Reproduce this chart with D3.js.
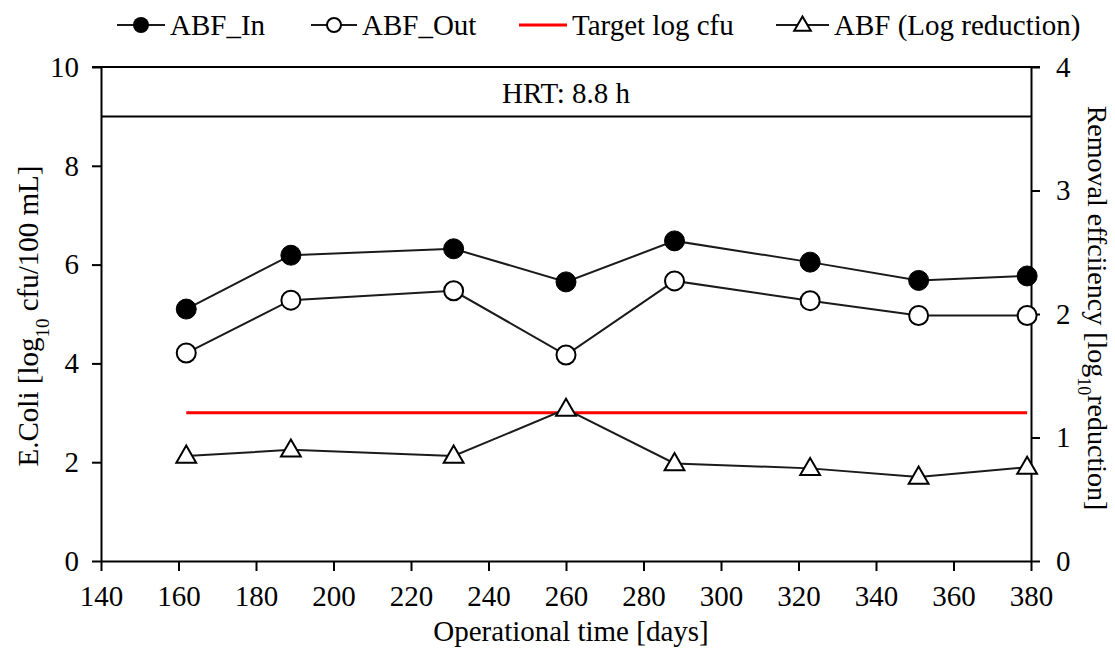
<!DOCTYPE html>
<html>
<head>
<meta charset="utf-8">
<script src="https://cdn.jsdelivr.net/npm/d3@7"></script>
<style>
  html, body { margin: 0; padding: 0; background: #fff; }
  svg text { font-family: "Liberation Serif", "Times New Roman", serif; fill: #000; }
</style>
</head>
<body>
<svg id="chart" width="1115" height="650"></svg>
<script>
// Operational days of each sampling
const days = [162, 189, 231, 260, 288, 323, 351, 379];
// E. coli, log10 cfu/100 mL
const abfIn  = [5.10, 6.19, 6.32, 5.65, 6.48, 6.05, 5.68, 5.77];
const abfOut = [4.21, 5.28, 5.47, 4.17, 5.67, 5.27, 4.97, 4.97];
// Removal, log10 reduction (right axis)
const logReduction = [0.85, 0.90, 0.85, 1.23, 0.79, 0.75, 0.68, 0.76];
// Target level, log10 cfu/100 mL
const targetLevel = 3;
const targetSpan = [162, 379];
const hrtLevel = 9;
const hrtLabel = "HRT: 8.8 h";

const xTicks = [140, 160, 180, 200, 220, 240, 260, 280, 300, 320, 340, 360, 380];
const yLeftTicks = [0, 2, 4, 6, 8, 10];
const yRightTicks = [0, 1, 2, 3, 4];

const svg = d3.select("#chart");
const m = { left: 101, right: 1031, top: 67, bottom: 561 };

const x = d3.scaleLinear().domain([140, 380]).range([m.left, m.right]);
const yL = d3.scaleLinear().domain([0, 10]).range([m.bottom, m.top]);
const yR = d3.scaleLinear().domain([0, 4]).range([m.bottom, m.top]);

const FS = 29;
const fmt = d3.format("d");

// Axes
const gx = svg.append("g").attr("transform", `translate(0,${m.bottom})`)
  .call(d3.axisBottom(x).tickValues(xTicks).tickFormat(fmt).tickSizeInner(10).tickSizeOuter(0).tickPadding(14));
const gyl = svg.append("g").attr("transform", `translate(${m.left},0)`)
  .call(d3.axisLeft(yL).tickValues(yLeftTicks).tickFormat(fmt).tickSizeInner(9).tickSizeOuter(0).tickPadding(13));
const gyr = svg.append("g").attr("transform", `translate(${m.right},0)`)
  .call(d3.axisRight(yR).tickValues(yRightTicks).tickFormat(fmt).tickSizeInner(9).tickSizeOuter(0).tickPadding(16));

[gx, gyl, gyr].forEach(g => {
  g.selectAll("path.domain").attr("stroke", "#000").attr("stroke-width", 2);
  g.selectAll(".tick line").attr("stroke", "#000").attr("stroke-width", 2);
  g.selectAll(".tick text").style("font-size", FS + "px").attr("fill", "#000");
});

// Top border and HRT band line
svg.append("line").attr("x1", m.left - 9).attr("x2", m.right + 9)
  .attr("y1", m.top).attr("y2", m.top).attr("stroke", "#000").attr("stroke-width", 2);
svg.append("line").attr("x1", m.left).attr("x2", m.right)
  .attr("y1", yL(hrtLevel)).attr("y2", yL(hrtLevel)).attr("stroke", "#000").attr("stroke-width", 2);
svg.append("text").attr("x", (m.left + m.right) / 2).attr("y", 103)
  .attr("text-anchor", "middle").style("font-size", FS + "px").text(hrtLabel);

// Axis titles
svg.append("text").attr("x", (m.left + m.right) / 2 + 5).attr("y", 641)
  .attr("text-anchor", "middle").style("font-size", FS + "px").text("Operational time [days]");

const lt = svg.append("text")
  .attr("transform", `translate(38,${(m.top + m.bottom) / 2 + 2}) rotate(-90)`)
  .attr("text-anchor", "middle").style("font-size", FS + "px");
lt.append("tspan").text("E.Coli [log");
lt.append("tspan").attr("baseline-shift", "sub").style("font-size", "19px").text("10");
lt.append("tspan").text(" cfu/100 mL]");

const rt = svg.append("text")
  .attr("transform", `translate(1088,${(m.top + m.bottom) / 2 - 6}) rotate(90)`)
  .attr("text-anchor", "middle").style("font-size", "28px");
rt.append("tspan").text("Removal effciiency [log");
rt.append("tspan").attr("baseline-shift", "sub").style("font-size", "18px").text("10");
rt.append("tspan").text("reduction]");

// Series lines
const lineL = d3.line().x(d => x(d[0])).y(d => yL(d[1]));
const lineR = d3.line().x(d => x(d[0])).y(d => yR(d[1]));
const inPts = days.map((d, i) => [d, abfIn[i]]);
const outPts = days.map((d, i) => [d, abfOut[i]]);
const redPts = days.map((d, i) => [d, logReduction[i]]);

svg.append("path").datum(inPts).attr("d", lineL)
  .attr("fill", "none").attr("stroke", "#1a1a1a").attr("stroke-width", 2);
svg.append("path").datum(outPts).attr("d", lineL)
  .attr("fill", "none").attr("stroke", "#1a1a1a").attr("stroke-width", 2);
svg.append("path").datum(targetSpan.map(d => [d, targetLevel])).attr("d", lineL)
  .attr("fill", "none").attr("stroke", "#ff0000").attr("stroke-width", 3);
svg.append("path").datum(redPts).attr("d", lineR)
  .attr("fill", "none").attr("stroke", "#1a1a1a").attr("stroke-width", 2);

// Markers
const tri = d3.symbol().type(d3.symbolTriangle).size(170);
svg.append("g").selectAll("circle").data(inPts).join("circle")
  .attr("cx", d => x(d[0])).attr("cy", d => yL(d[1])).attr("r", 10)
  .attr("fill", "#000").attr("stroke", "#000").attr("stroke-width", 1);
svg.append("g").selectAll("circle").data(outPts).join("circle")
  .attr("cx", d => x(d[0])).attr("cy", d => yL(d[1])).attr("r", 9.5)
  .attr("fill", "#fff").attr("stroke", "#000").attr("stroke-width", 2);
svg.append("g").selectAll("path").data(redPts).join("path")
  .attr("d", tri).attr("transform", d => `translate(${x(d[0])},${yR(d[1]) + 1})`)
  .attr("fill", "#fff").attr("stroke", "#000").attr("stroke-width", 2);

// Legend
const legendY = 25;
const legend = [
  { x0: 117, x1: 165, label: "ABF_In", kind: "filled" },
  { x0: 311, x1: 357, label: "ABF_Out", kind: "open" },
  { x0: 519, x1: 567, label: "Target log cfu", kind: "red" },
  { x0: 776, x1: 829, label: "ABF (Log reduction)", kind: "tri" }
];
const lg = svg.append("g");
legend.forEach(it => {
  const cx = (it.x0 + it.x1) / 2;
  lg.append("line").attr("x1", it.x0).attr("x2", it.x1).attr("y1", legendY).attr("y2", legendY)
    .attr("stroke", it.kind === "red" ? "#ff0000" : "#1a1a1a")
    .attr("stroke-width", it.kind === "red" ? 3 : 2);
  if (it.kind === "filled") {
    lg.append("circle").attr("cx", cx).attr("cy", legendY).attr("r", 8).attr("fill", "#000");
  } else if (it.kind === "open") {
    lg.append("circle").attr("cx", cx).attr("cy", legendY).attr("r", 7)
      .attr("fill", "#fff").attr("stroke", "#000").attr("stroke-width", 2);
  } else if (it.kind === "tri") {
    lg.append("path").attr("d", d3.symbol().type(d3.symbolTriangle).size(120))
      .attr("transform", `translate(${cx},${legendY + 1})`)
      .attr("fill", "#fff").attr("stroke", "#000").attr("stroke-width", 2);
  }
  lg.append("text").attr("x", it.x1 + 5).attr("y", legendY + 10)
    .style("font-size", FS + "px").text(it.label);
});
</script>
</body>
</html>
